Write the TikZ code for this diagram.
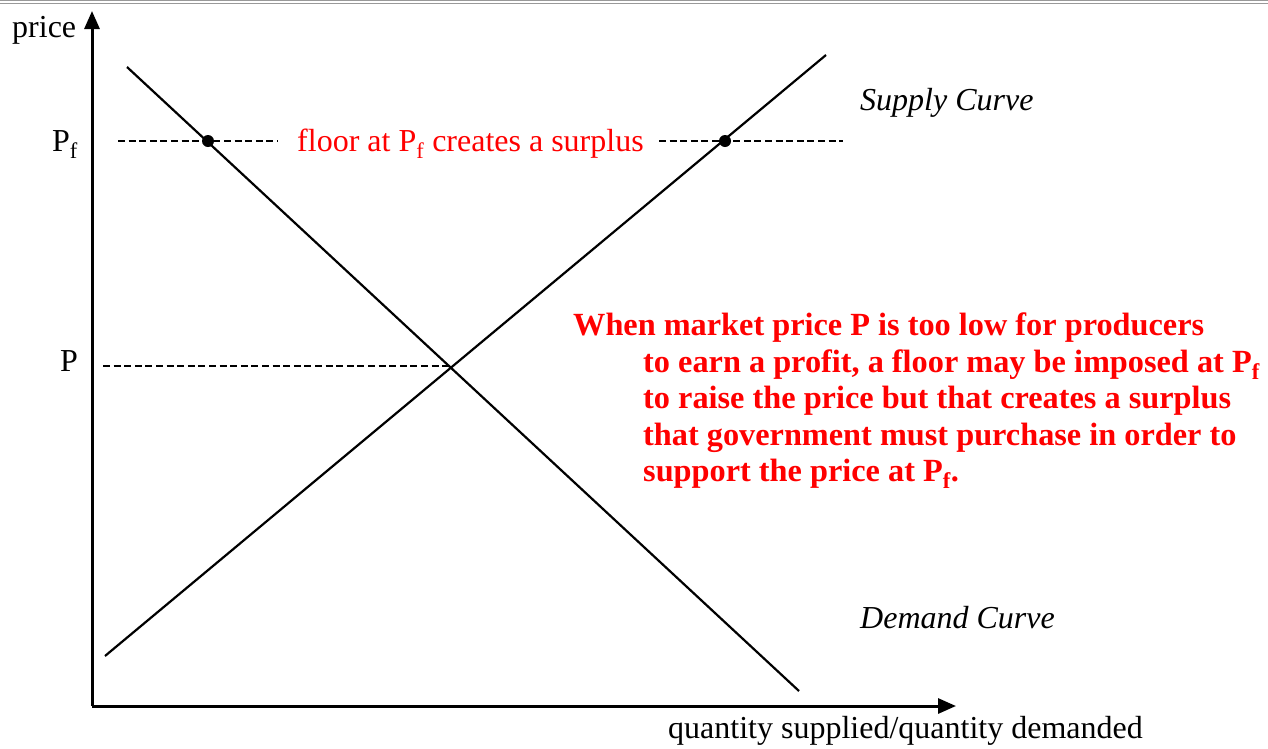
\documentclass[tikz,border=0pt]{standalone}
\usepackage{fontspec}
\setmainfont{Liberation Serif}
\usetikzlibrary{arrows.meta}
\definecolor{txtred}{RGB}{255,0,0}
\begin{document}
\begin{tikzpicture}[x=1pt,y=-1pt,
  lbl/.style={anchor=base west,inner sep=0pt,font=\fontsize{32}{36}\selectfont},
  redlbl/.style={lbl,text=txtred},
  redbold/.style={anchor=base west,inner sep=0pt,text=txtred,font=\fontsize{32.3}{36}\selectfont\bfseries},
  axisline/.style={line width=3pt,-{Triangle[length=18pt,width=15pt]}},
  curve/.style={line width=2.2pt},
  dashline/.style={line width=2pt,dash pattern=on 7pt off 3.6pt},
  dotmark/.style={circle,fill=black,inner sep=0pt,minimum size=12pt}]
\useasboundingbox (0,0) rectangle (1268,748);
\fill[white] (0,0) rectangle (1268,748);
% top border
\draw[gray!80,line width=1.2pt] (0,0.6) -- (1268,0.6);
\draw[gray!80,line width=1.2pt] (0,3.2) -- (1268,3.2);
% axes
\coordinate (O) at (92,706);
\coordinate (ytip) at (92,11);
\coordinate (xtip) at (956,706);
\draw[axisline] (O) -- (ytip);
\draw[axisline] (O) -- (xtip);
% curves
\coordinate (d1) at (127,67);
\coordinate (d2) at (799,691);
\coordinate (s1) at (105,656);
\coordinate (s2) at (826,55);
\coordinate (E) at (451,366);
\draw[curve] (d1) -- (d2);
\draw[curve] (s1) -- (s2);
% dashed lines
\coordinate (pl) at (103,366);
\draw[dashline] (pl) -- (E);
\coordinate (fl1) at (118,141);
\coordinate (fl2) at (278,141);
\coordinate (fr1) at (659,141);
\coordinate (fr2) at (843,141);
\draw[dashline] (fl1) -- (fl2);
\draw[dashline] (fr1) -- (fr2);
\node[dotmark] (dotD) at (208,141) {};
\node[dotmark] (dotS) at (725,141) {};
% labels
\node[lbl] (price) at (12,37) {price};
\node[lbl] (Pf) at (52,151) {P\textsubscript{f}};
\node[lbl] (P) at (60,371) {P};
\node[redlbl] (floor) at (297,151) {floor at P\textsubscript{f} creates a surplus};
\node[lbl,font=\fontsize{32}{36}\selectfont\itshape] (supply) at (860,110) {Supply Curve};
\node[lbl,font=\fontsize{32}{36}\selectfont\itshape] (demand) at (860,628) {Demand Curve};
\node[lbl] (qty) at (668,738) {quantity supplied/quantity demanded};
% explanation
\node[redbold] (r1) at (573,335) {When market price P is too low for producers};
\node[redbold] (r2) at (643,372) {to earn a profit, a floor may be imposed at P\textsubscript{f}};
\node[redbold] (r3) at (643,408) {to raise the price but that creates a surplus};
\node[redbold] (r4) at (643,445) {that government must purchase in order to};
\node[redbold] (r5) at (643,481) {support the price at P\textsubscript{f}.};
\end{tikzpicture}
\end{document}
